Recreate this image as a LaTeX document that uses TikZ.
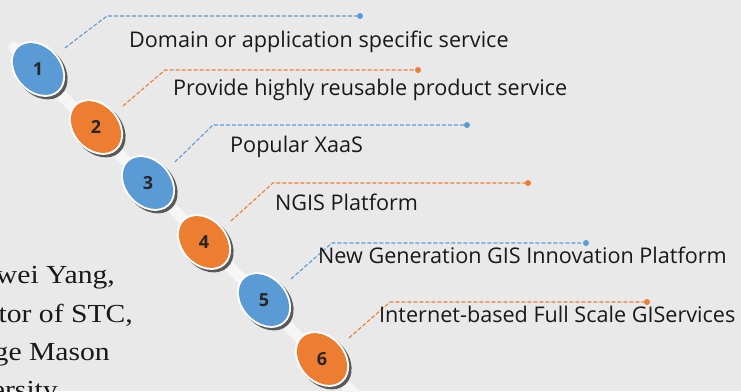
\documentclass[tikz,border=0pt]{standalone}
\usepackage{fontspec}
\setmainfont{Liberation Serif}
\setsansfont{Open Sans}
\newfontfamily\biofont[FakeStretch=1.14]{Liberation Serif}
\definecolor{bgcol}{RGB}{233,233,233}
\definecolor{blu}{RGB}{91,155,213}
\definecolor{org}{RGB}{237,125,49}

\begin{document}
\begin{tikzpicture}[x=1pt,y=-1pt]
	\tikzstyle{every node}=[inner sep=0pt]
	\tikzstyle{num}=[circle, minimum size=68pt, text=black!85, font=\sffamily\bfseries\fontsize{18}{18}\selectfont]
	\tikzstyle{lab}=[anchor=base west, text=black!90, font=\sffamily\fontsize{21.6}{22}\selectfont]
	\tikzstyle{bio}=[anchor=base east, text=black!90, font=\biofont\fontsize{26}{26}\selectfont]
	\tikzstyle{lead}=[line width=1.1pt, dash pattern=on 4pt off 2pt]
	\tikzstyle{tip}=[circle, minimum size=6pt, fill]
	\fill[bgcol] (0,0) rectangle (741,391);
	\clip (0,0) rectangle (741,391);
	% the bar behind the discs
	\draw[line width=11pt, white!60!bgcol, line cap=round] (14,47) -- (390,430);
	% discs
	\foreach \i/\x/\y/\c in {1/38/69/blu, 2/96/127/org, 3/148/183/blu, 4/204/242/org, 5/264/300/blu, 6/322/359/org} {
		\fill[black!65, rotate around={-48:(\x+2.5,\y+2.5)}] (\x+2.5,\y+2.5) ellipse (31 and 23.5);
		\fill[white, rotate around={-48:(\x,\y)}] (\x,\y) ellipse (31 and 23.5);
		\fill[\c, rotate around={-48:(\x,\y)}] (\x,\y) ellipse (29 and 21.5);
		\draw (\x,\y) node[num] (d\i) {\i};
	}
	% leaders: elbow, end dot and text
	\draw (360,16) node[tip, blu] (t1) {};
	\draw (418,70) node[tip, org] (t2) {};
	\draw (467,125) node[tip, blu] (t3) {};
	\draw (528,183) node[tip, org] (t4) {};
	\draw (586,243) node[tip, blu] (t5) {};
	\draw (647,302) node[tip, org] (t6) {};
	\coordinate (e1) at (107,16);
	\coordinate (e2) at (165,70);
	\coordinate (e3) at (213,125);
	\coordinate (e4) at (273,183);
	\coordinate (e5) at (332,243);
	\coordinate (e6) at (390,302);
	\draw[lead, blu] (d1.38) -- (e1) -- (t1);
	\draw[lead, org] (d2.38) -- (e2) -- (t2);
	\draw[lead, blu] (d3.38) -- (e3) -- (t3);
	\draw[lead, org] (d4.38) -- (e4) -- (t4);
	\draw[lead, blu] (d5.38) -- (e5) -- (t5);
	\draw[lead, org] (d6.38) -- (e6) -- (t6);
	\draw (129,47) node[lab] (l1) {Domain or application specific service};
	\draw (173,95) node[lab] (l2) {Provide highly reusable product service};
	\draw (230,152) node[lab] (l3) {Popular XaaS};
	\draw (275,210) node[lab] (l4) {NGIS Platform};
	\draw (318,263) node[lab] (l5) {New Generation GIS Innovation Platform};
	\draw (379,322) node[lab] (l6) {Internet-based Full Scale GIServices};
	% name block, cut at the left edge
	\draw (115,283) node[bio] (b1) {wei Yang,};
	\draw (133,322) node[bio] (b2) {tor of STC,};
	\draw (110,360) node[bio] (b3) {ge Mason};
	\draw (58,398) node[bio] (b4) {ersity};
\end{tikzpicture}
\end{document}
